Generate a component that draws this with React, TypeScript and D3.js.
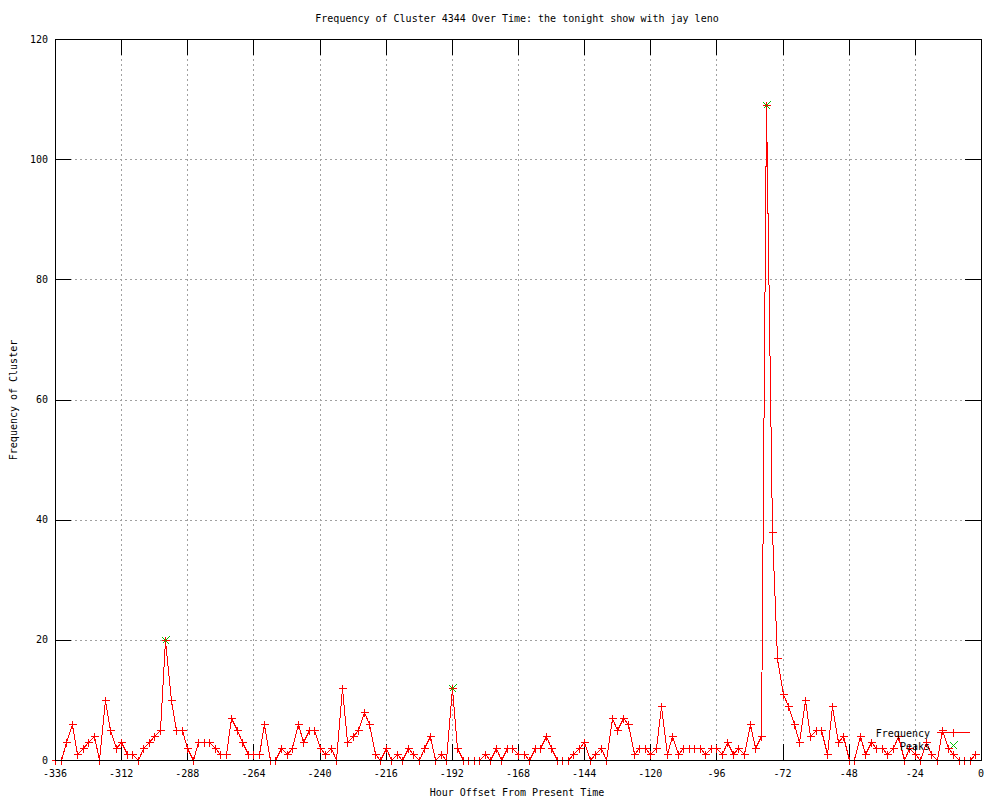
import * as d3 from "d3";

// hour offsets run from -336 in 2-hour steps
const startHour = -336;
const stepHours = 2;

const frequency = [
  0, 0, 3, 6, 1, 2, 3, 4, 0, 10, 5, 2, 3, 1, 1, 0, 2, 3, 4, 5,
  20, 10, 5, 5, 2, 0, 3, 3, 3, 2, 1, 1, 7, 5, 3, 1, 1, 1, 6, 0,
  0, 2, 1, 2, 6, 3, 5, 5, 2, 1, 2, 0, 12, 3, 4, 5, 8, 6, 1, 0,
  2, 0, 1, 0, 2, 1, 0, 2, 4, 0, 1, 0, 12, 2, 0, 0, 0, 0, 1, 0,
  2, 0, 2, 2, 1, 1, 0, 2, 2, 4, 2, 0, 0, 0, 1, 2, 3, 0, 1, 2,
  0, 7, 5, 7, 6, 1, 2, 2, 1, 2, 9, 1, 4, 1, 2, 2, 2, 2, 1, 2,
  2, 1, 3, 1, 2, 1, 6, 2, 4, 109, 38, 17, 11, 9, 6, 3, 10, 4, 5, 5,
  1, 9, 3, 4, 0, 0, 4, 1, 3, 2, 2, 1, 2, 4, 0, 2, 1, 0, 3, 1,
  0, 5, 2, 1, 0, 0, 0, 1,
];
const hours = frequency.map((_, i) => startHour + i * stepHours);

const peakHours = [-296, -192, -78];
const peakValues = [20, 12, 109];

const xTicks = [-336, -312, -288, -264, -240, -216, -192, -168, -144, -120, -96, -72, -48, -24, 0];
const yTicks = [0, 20, 40, 60, 80, 100, 120];

const W = 1000;
const H = 800;
const P = { left: 55, right: 981, top: 39, bottom: 760 };
const TICK = 16;
const FONT = "'DejaVu Sans Mono', 'Liberation Mono', monospace";
const RED = "#ff0000";
const GREEN = "#00c000";
const GRID = "#a0a0a0";

const plus = (cx: number, cy: number) => `M${cx - 4},${cy}h8M${cx},${cy - 4}v8`;
const cross = (cx: number, cy: number) =>
  `M${cx - 3},${cy - 3}l7,7M${cx - 3},${cy + 3}l7,-7`;

export default function App() {
  const x = d3.scaleLinear().domain([-336, 0]).range([P.left, P.right]);
  const y = d3.scaleLinear().domain([0, 120]).range([P.bottom, P.top]);

  const line = d3
    .line<number>()
    .x((_, i) => Math.round(x(hours[i])) + 0.5)
    .y((d) => Math.round(y(d)) + 0.5);

  const px = (v: number) => Math.round(x(v)) + 0.5;
  const py = (v: number) => Math.round(y(v)) + 0.5;

  return (
    <svg
      width={W}
      height={H}
      style={{ position: "absolute", left: 0, top: 0, background: "#fff" }}
      fontFamily={FONT}
      fontSize={10}
    >
      <rect width={W} height={H} fill="#fff" />

      {/* grid */}
      <g stroke={GRID} strokeDasharray="2,3" shapeRendering="crispEdges">
        {xTicks.slice(1, -1).map((t) => (
          <line key={"gx" + t} x1={px(t)} x2={px(t)} y1={P.top} y2={P.bottom} />
        ))}
        {yTicks.slice(1, -1).map((t) => (
          <line key={"gy" + t} x1={P.left} x2={P.right} y1={py(t)} y2={py(t)} />
        ))}
      </g>

      {/* ticks, mirrored on all sides */}
      <g stroke="#000" shapeRendering="crispEdges">
        {xTicks.map((t) => (
          <g key={"tx" + t}>
            <line x1={px(t)} x2={px(t)} y1={P.bottom} y2={P.bottom - TICK} />
            <line x1={px(t)} x2={px(t)} y1={P.top} y2={P.top + TICK} />
          </g>
        ))}
        {yTicks.map((t) => (
          <g key={"ty" + t}>
            <line x1={P.left} x2={P.left + TICK} y1={py(t)} y2={py(t)} />
            <line x1={P.right} x2={P.right - TICK} y1={py(t)} y2={py(t)} />
          </g>
        ))}
      </g>

      {/* tick labels */}
      <g fill="#000">
        {xTicks.map((t) => (
          <text key={"lx" + t} x={x(t)} y={777} textAnchor="middle">
            {t}
          </text>
        ))}
        {yTicks.map((t) => (
          <text key={"ly" + t} x={48} y={y(t)} dy="0.35em" textAnchor="end">
            {t}
          </text>
        ))}
      </g>

      {/* frequency series */}
      <path d={line(frequency) ?? ""} fill="none" stroke={RED} strokeWidth={1} shapeRendering="crispEdges" />
      <path
        d={frequency.map((v, i) => plus(px(hours[i]), py(v))).join("")}
        fill="none"
        stroke={RED}
        shapeRendering="crispEdges"
      />

      {/* peaks */}
      <path
        d={peakValues.map((v, i) => cross(px(peakHours[i]), py(v))).join("")}
        fill="none"
        stroke={GREEN}
        shapeRendering="crispEdges"
      />

      {/* border */}
      <rect
        x={P.left + 0.5}
        y={P.top + 0.5}
        width={P.right - P.left}
        height={P.bottom - P.top}
        fill="none"
        stroke="#000"
        shapeRendering="crispEdges"
      />

      {/* legend */}
      <text x={930} y={733} dy="0.35em" textAnchor="end">Frequency</text>
      <line x1={937} x2={970} y1={732.5} y2={732.5} stroke={RED} shapeRendering="crispEdges" />
      <path d={plus(953.5, 732.5)} stroke={RED} fill="none" shapeRendering="crispEdges" />
      <text x={930} y={746} dy="0.35em" textAnchor="end">Peaks</text>
      <path d={cross(953.5, 745.5)} stroke={GREEN} fill="none" shapeRendering="crispEdges" />

      {/* titles */}
      <text x={517} y={18} dy="0.35em" textAnchor="middle">
        Frequency of Cluster 4344 Over Time: the tonight show with jay leno
      </text>
      <text x={517} y={792} dy="0.35em" textAnchor="middle">
        Hour Offset From Present Time
      </text>
      <text transform="translate(13,400) rotate(-90)" dy="0.35em" textAnchor="middle">
        Frequency of Cluster
      </text>
    </svg>
  );
}
